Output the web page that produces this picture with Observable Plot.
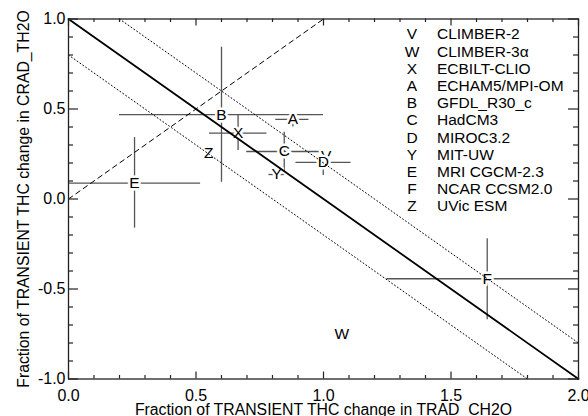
<!DOCTYPE html>
<html><head><meta charset="utf-8">
<script src="https://cdn.jsdelivr.net/npm/d3@7"></script>
<script src="https://cdn.jsdelivr.net/npm/@observablehq/plot@0.6"></script>
<style>body{margin:0;background:#fff}</style>
</head><body><div id="chart"></div>
<script>
// ---- data ----
const letters    = ["V","W","X","A","B","C","D","Y","E","F","Z"];
const modelNames = ["CLIMBER-2","CLIMBER-3\u03B1","ECBILT-CLIO","ECHAM5/MPI-OM","GFDL_R30_c","HadCM3","MIROC3.2","MIT-UW","MRI CGCM-2.3","NCAR CCSM2.0","UVic ESM"];
const xVal = [1.01, 1.072, 0.665, 0.88, 0.60, 0.846, 0.999, 0.816, 0.259, 1.642, 0.55];
const yVal = [0.236, -0.749, 0.366, 0.442, 0.469, 0.264, 0.204, 0.136, 0.088, -0.443, 0.254];
const xLo  = [null, null, 0.553, 0.813, 0.20, 0.699, 0.892, 0.786, 0.0, 1.249, null];
const xHi  = [null, null, 0.778, 0.943, 1.00, 0.990, 1.108, 0.846, 0.518, 2.0, null];
const yLo  = [null, null, 0.269, 0.40, 0.093, 0.149, 0.13, 0.12, -0.162, -0.671, null];
const yHi  = [null, null, 0.464, 0.48, 0.843, 0.371, 0.27, 0.15, 0.341, -0.221, null];

// reference lines
const sumX = [0, 2],     sumY = [1, -1];      // x + y = 1
const upX  = [0.2, 2],   upY  = [1, -0.8];    // x + y = 1.2
const loX  = [0, 1.8],   loY  = [0.8, -1];    // x + y = 0.8
const idX  = [0, 1],     idY  = [0, 1];       // y = x

// ticks
const xMajor = [0, 0.5, 1.0, 1.5, 2.0];
const xMinor = [0.1,0.2,0.3,0.4,0.6,0.7,0.8,0.9,1.1,1.2,1.3,1.4,1.6,1.7,1.8,1.9];
const yMajor = [-1.0, -0.5, 0.0, 0.5, 1.0];
const yMinor = [-0.9,-0.8,-0.7,-0.6,-0.4,-0.3,-0.2,-0.1,0.1,0.2,0.3,0.4,0.6,0.7,0.8,0.9];

const xTitle = "Fraction of TRANSIENT THC change in TRAD_CH2O";
const yTitle = "Fraction of TRANSIENT THC change in CRAD_TH2O";

// ---- layout ----
const W = 588, H = 416, mL = 68, mR = 10, mT = 18.5, mB = 37.5;
const plotW = W - mL - mR, plotH = H - mT - mB;

// ---- build ----
const models = letters.map((l, i) => ({l, x: xVal[i], y: yVal[i], xlo: xLo[i], xhi: xHi[i], ylo: yLo[i], yhi: yHi[i]}));
const pts = (xs, ys) => xs.map((x, i) => ({x, y: ys[i]}));
const fmt = d => d.toFixed(1);
const font = "'Liberation Sans', Arial, Helvetica, sans-serif";
const barColor = "#555";
const tickColor = "#222";

const legendMarks = [];
letters.forEach((l, i) => {
  legendMarks.push(Plot.text([l], {frameAnchor: "top-left", dx: 343.5, dy: 15.5 + i * 17.2, text: d => d, textAnchor: "middle", lineAnchor: "middle", fontSize: 15.5, fill: "black"}));
  legendMarks.push(Plot.text([modelNames[i]], {frameAnchor: "top-left", dx: 368.5, dy: 15.5 + i * 17.2, text: d => d, textAnchor: "start", lineAnchor: "middle", fontSize: 15.5, fill: "black"}));
});

const chart = Plot.plot({
  width: W,
  height: H,
  marginLeft: mL,
  marginRight: mR,
  marginTop: mT,
  marginBottom: mB,
  style: {fontFamily: font, fontSize: "16px", background: "white", color: "black"},
  x: {domain: [0, 2], label: null},
  y: {domain: [-1, 1], label: null},
  marks: [
    // error bars
    Plot.ruleY(models.filter(d => d.xlo != null), {y: "y", x1: "xlo", x2: "xhi", stroke: barColor, strokeWidth: 1.3}),
    Plot.ruleX(models.filter(d => d.ylo != null), {x: "x", y1: "ylo", y2: "yhi", stroke: barColor, strokeWidth: 1.3}),
    // model letters
    Plot.text(models, {x: "x", y: "y", text: "l", fontSize: 15.5, fill: "black", stroke: "white", strokeWidth: 5, paintOrder: "stroke", textAnchor: "middle", lineAnchor: "middle"}),
    // reference lines
    Plot.line(pts(sumX, sumY), {x: "x", y: "y", stroke: "black", strokeWidth: 1.8}),
    Plot.line(pts(upX, upY), {x: "x", y: "y", stroke: "black", strokeWidth: 1, strokeDasharray: "1,2.5"}),
    Plot.line(pts(loX, loY), {x: "x", y: "y", stroke: "black", strokeWidth: 1, strokeDasharray: "1,2.5"}),
    Plot.line(pts(idX, idY), {x: "x", y: "y", stroke: "black", strokeWidth: 1, strokeDasharray: "5,4"}),
    // legend
    ...legendMarks,
    // inward ticks on all four sides
    Plot.tickX(xMajor, {x: d => d, insetTop: plotH - 7, stroke: tickColor, strokeWidth: 1.2}),
    Plot.tickX(xMinor, {x: d => d, insetTop: plotH - 3.5, stroke: tickColor, strokeWidth: 1.2}),
    Plot.tickX(xMajor, {x: d => d, insetBottom: plotH - 7, stroke: tickColor, strokeWidth: 1.2}),
    Plot.tickX(xMinor, {x: d => d, insetBottom: plotH - 3.5, stroke: tickColor, strokeWidth: 1.2}),
    Plot.tickY(yMajor, {y: d => d, insetRight: plotW - 10, stroke: tickColor, strokeWidth: 1.2}),
    Plot.tickY(yMinor, {y: d => d, insetRight: plotW - 5, stroke: tickColor, strokeWidth: 1.2}),
    Plot.tickY(yMajor, {y: d => d, insetLeft: plotW - 10, stroke: tickColor, strokeWidth: 1.2}),
    Plot.tickY(yMinor, {y: d => d, insetLeft: plotW - 5, stroke: tickColor, strokeWidth: 1.2}),
    // tick labels
    Plot.axisX({anchor: "bottom", ticks: xMajor, tickSize: 0, tickPadding: 11, tickFormat: fmt, label: null, fontSize: 16, fill: "black"}),
    Plot.axisY({anchor: "left", ticks: yMajor, tickSize: 0, tickPadding: 3, tickFormat: fmt, label: null, fontSize: 16, fill: "black"}),
    // axis titles
    Plot.text([xTitle], {frameAnchor: "bottom", dy: 31, text: d => d, fontSize: 15.8, fill: "black", textAnchor: "middle", lineAnchor: "middle"}),
    Plot.text([yTitle], {frameAnchor: "left", dx: -45, rotate: -90, text: d => d, fontSize: 15.8, fill: "black", textAnchor: "middle", lineAnchor: "middle"}),
    // frame
    Plot.frame({stroke: "#222", strokeWidth: 1.3})
  ]
});
document.getElementById("chart").appendChild(chart);
</script>
</body></html>
